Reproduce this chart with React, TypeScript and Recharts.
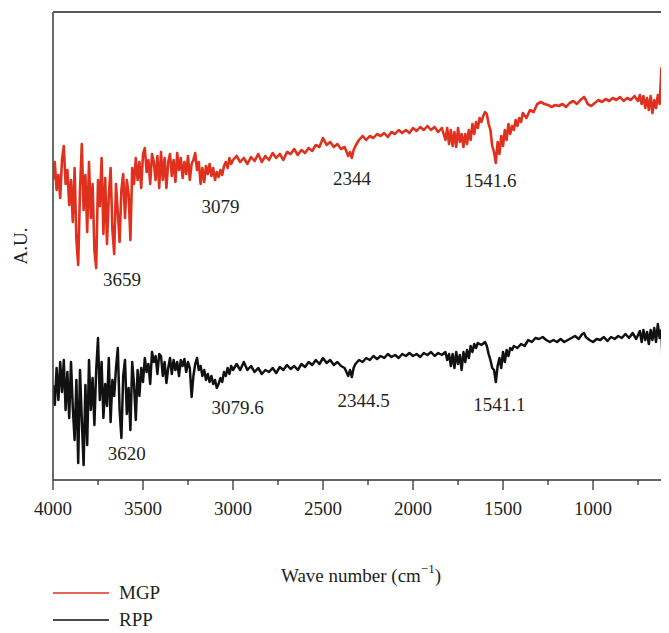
import React from 'react';
import { LineChart, Line, XAxis, YAxis, ReferenceLine, ReferenceDot, Legend } from 'recharts';

// Wavenumber (cm-1) and intensity (A.U.) pairs
const mgpSpectrum: [number, number][] = [
  [4000,300],[3990,318],[3980,290],[3970,305],[3960,282],[3950,320],[3940,334],[3930,296],[3920,310],[3910,275],
  [3900,300],[3890,258],[3880,312],[3870,240],[3860,215],[3850,290],[3840,336],[3830,270],[3820,305],[3810,248],
  [3800,318],[3790,262],[3780,296],[3770,230],[3760,212],[3750,300],[3740,274],[3730,322],[3720,246],[3710,302],
  [3700,236],[3690,284],[3680,312],[3670,250],[3660,226],[3650,296],[3640,268],[3630,238],[3620,290],[3610,306],
  [3600,262],[3590,300],[3580,286],[3570,240],[3560,312],[3550,296],[3540,322],[3530,300],[3520,318],[3510,292],
  [3500,326],[3490,332],[3480,308],[3470,320],[3460,296],[3450,326],[3440,318],[3430,300],[3420,324],[3410,292],
  [3400,328],[3390,300],[3380,322],[3370,292],[3360,318],[3350,326],[3340,304],[3330,320],[3320,298],[3310,327],
  [3300,310],[3290,322],[3280,302],[3270,318],[3260,306],[3250,324],[3240,300],[3230,316],[3220,320],[3210,327],
  [3200,310],[3190,318],[3180,296],[3170,312],[3160,298],[3150,314],[3140,306],[3130,316],[3120,304],[3110,312],
  [3100,300],[3090,308],[3080,303],[3070,310],[3060,305],[3050,314],[3040,318],[3030,312],[3020,322],[3010,316],
  [3000,320],[2980,324],[2960,318],[2940,322],[2920,316],[2900,323],[2880,319],[2860,326],[2840,318],[2820,324],
  [2800,320],[2780,327],[2760,322],[2740,326],[2720,320],[2700,328],[2680,326],[2660,331],[2640,325],[2620,330],
  [2600,327],[2580,332],[2560,329],[2540,335],[2520,333],[2500,342],[2480,335],[2460,338],[2440,333],[2420,336],
  [2400,331],[2380,333],[2360,324],[2350,328],[2340,322],[2330,330],[2320,334],[2300,340],[2280,344],[2260,340],
  [2240,344],[2220,342],[2200,346],[2180,344],[2160,347],[2140,343],[2120,348],[2100,346],[2080,350],[2060,347],
  [2040,350],[2020,347],[2000,352],[1980,349],[1960,353],[1940,350],[1920,354],[1900,350],[1880,353],[1860,348],
  [1840,352],[1820,340],[1810,352],[1800,336],[1790,350],[1780,334],[1770,348],[1760,333],[1750,352],[1740,338],
  [1730,346],[1720,333],[1710,346],[1700,336],[1690,350],[1680,340],[1670,356],[1660,346],[1650,358],[1640,352],
  [1630,362],[1620,358],[1610,364],[1600,368],[1590,366],[1580,356],[1570,350],[1560,334],[1550,328],[1540,317],
  [1530,338],[1520,326],[1510,344],[1500,334],[1490,350],[1480,340],[1470,356],[1460,346],[1450,354],[1440,350],
  [1430,360],[1420,354],[1410,362],[1400,358],[1390,367],[1370,362],[1350,370],[1330,368],[1310,376],[1290,378],
  [1270,376],[1250,375],[1230,373],[1210,375],[1190,374],[1170,376],[1150,373],[1130,377],[1110,379],[1090,376],
  [1070,380],[1050,383],[1040,380],[1030,376],[1010,374],[990,377],[970,380],[950,378],[930,381],[910,379],
  [890,382],[870,380],[850,383],[830,379],[810,382],[790,380],[770,384],[750,379],[740,385],[730,376],
  [720,384],[710,372],[700,382],[690,370],[680,384],[670,367],[660,380],[650,372],[640,385],[630,376],
  [620,412],[615,388],[610,378],[600,382],[590,425],[584,360],[578,353],
];

const rppSpectrum: [number, number][] = [
  [4000,95],[3990,75],[3980,112],[3970,80],[3960,118],[3950,88],[3940,120],[3930,70],[3920,108],[3910,62],
  [3900,118],[3890,72],[3880,40],[3870,100],[3860,17],[3850,110],[3840,60],[3830,15],[3820,95],[3810,35],
  [3800,120],[3790,70],[3780,102],[3770,55],[3760,110],[3750,142],[3740,80],[3730,118],[3720,62],[3710,96],
  [3700,74],[3690,122],[3680,58],[3670,100],[3660,84],[3650,112],[3640,132],[3630,70],[3620,42],[3610,104],
  [3600,120],[3590,66],[3580,92],[3570,50],[3560,118],[3550,96],[3540,60],[3530,110],[3520,84],[3510,112],
  [3500,98],[3490,122],[3480,108],[3470,116],[3460,96],[3450,128],[3440,118],[3430,124],[3420,106],[3410,126],
  [3400,124],[3390,104],[3380,118],[3370,97],[3360,112],[3350,122],[3340,106],[3330,120],[3320,110],[3310,118],
  [3300,104],[3290,120],[3280,114],[3270,121],[3260,108],[3250,118],[3240,112],[3230,83],[3220,104],[3210,116],
  [3200,122],[3190,110],[3180,114],[3170,104],[3160,110],[3150,100],[3140,106],[3130,98],[3120,104],[3110,96],
  [3100,100],[3090,92],[3080,96],[3070,102],[3060,98],[3050,108],[3040,104],[3030,112],[3020,106],[3010,114],
  [3000,110],[2980,116],[2960,110],[2940,118],[2920,110],[2900,114],[2880,108],[2860,112],[2840,106],[2820,110],
  [2800,108],[2780,112],[2760,107],[2740,113],[2720,110],[2700,115],[2680,111],[2660,114],[2640,110],[2620,116],
  [2600,113],[2580,118],[2560,115],[2540,120],[2520,116],[2500,122],[2480,117],[2460,120],[2440,115],[2420,118],
  [2400,114],[2380,112],[2360,104],[2350,110],[2340,103],[2330,112],[2320,116],[2300,120],[2280,118],[2260,122],
  [2240,120],[2220,124],[2200,121],[2180,124],[2160,122],[2140,126],[2120,123],[2100,125],[2080,122],[2060,126],
  [2040,124],[2020,127],[2000,124],[1980,126],[1960,123],[1940,127],[1920,125],[1900,128],[1880,124],[1860,127],
  [1840,125],[1820,128],[1810,120],[1800,126],[1790,114],[1780,126],[1770,112],[1760,128],[1750,116],[1740,125],
  [1730,110],[1720,128],[1710,118],[1700,130],[1690,122],[1680,134],[1670,128],[1660,136],[1650,132],[1640,137],
  [1620,135],[1600,138],[1590,134],[1580,126],[1570,120],[1560,112],[1550,110],[1540,98],[1530,114],[1520,122],
  [1510,112],[1500,128],[1490,118],[1480,130],[1470,124],[1460,132],[1450,130],[1440,134],[1420,132],[1400,136],
  [1380,134],[1360,140],[1340,138],[1320,142],[1300,141],[1280,143],[1260,140],[1240,138],[1220,140],[1200,138],
  [1180,141],[1160,138],[1140,140],[1120,142],[1100,144],[1080,141],[1060,146],[1050,147],[1040,143],[1020,140],
  [1000,138],[980,141],[960,140],[940,143],[920,139],[900,143],[880,141],[860,144],[840,142],[820,146],
  [800,142],[780,147],[760,141],[740,149],[730,138],[720,150],[710,140],[700,148],[690,136],[680,150],
  [670,140],[660,152],[650,138],[640,156],[630,142],[620,150],[615,123],[610,170],[600,140],[590,85],[580,78],
];

const xTicks = [4000, 3750, 3500, 3250, 3000, 2750, 2500, 2250, 2000, 1750, 1500, 1250, 1000, 750];

// Peak annotations: text, wavenumber anchor, intensity anchor
const mgpPeaks: { text: string; w: number; v: number }[] = [
  { text: '3659', w: 3617, v: 201 },
  { text: '3079', w: 3070, v: 274 },
  { text: '2344', w: 2339, v: 302 },
  { text: '1541.6', w: 1570, v: 300 },
];
const rppPeaks: { text: string; w: number; v: number }[] = [
  { text: '3620', w: 3590, v: 27 },
  { text: '3079.6', w: 2975, v: 73 },
  { text: '2344.5', w: 2275, v: 80 },
  { text: '1541.1', w: 1520, v: 76 },
];

const seriesNames = ['MGP', 'RPP'];

const FONT = '"Liberation Serif", "Times New Roman", serif';
const TEXT = '#231f20';

const mgpData = mgpSpectrum.map(([w, v]) => ({ w, v }));
const rppData = rppSpectrum.map(([w, v]) => ({ w, v }));

const AxisTick = (props: any) => {
  const { x, y, payload } = props;
  const major = payload.value % 500 === 0;
  return (
    <g>
      <line x1={x} x2={x} y1={y} y2={y + (major ? 10 : 5)} stroke="#333" strokeWidth={1.3} />
      {major && (
        <text x={x} y={y + 28} textAnchor="middle" dominantBaseline="central" fontFamily={FONT} fontSize={19} fill={TEXT}>
          {payload.value}
        </text>
      )}
    </g>
  );
};

const LegendContent = (props: any) => {
  const { payload } = props;
  return (
    <div style={{ fontFamily: FONT, fontSize: 19, lineHeight: '22px', color: TEXT }}>
      {(payload || []).map((entry: any, i: number) => (
        <div key={i} style={{ display: 'flex', alignItems: 'center', height: 27 }}>
          <svg width={56} height={4} style={{ marginRight: 10 }}>
            <line x1={0} x2={56} y1={2} y2={2} stroke={entry.color} strokeWidth={1.6} />
          </svg>
          <span>{entry.value}</span>
        </div>
      ))}
    </div>
  );
};

export default function App() {
  return (
    <div style={{ width: 661, height: 625, overflow: 'hidden' }}>
      <LineChart width={661} height={625} margin={{ top: 4, right: 0, bottom: 53, left: 0 }}>
        <XAxis
          dataKey="w"
          type="number"
          domain={[578, 4000]}
          reversed
          allowDataOverflow
          ticks={xTicks}
          interval={0}
          tick={<AxisTick />}
          tickLine={false}
          tickSize={0}
          tickMargin={0}
          height={100}
          axisLine={{ stroke: '#333', strokeWidth: 1.3 }}
          label={{
            content: (p: any) => {
              const vb = p.viewBox;
              return (
                <text x={vb.x + vb.width / 2} y={vb.y + 95} textAnchor="middle" dominantBaseline="central" fontFamily={FONT} fontSize={19} fill={TEXT}>
                  Wave number (cm
                  <tspan dy={-7} fontSize={13}>−1</tspan>
                  <tspan dy={7}>)</tspan>
                </text>
              );
            },
          }}
        />
        <YAxis
          type="number"
          domain={[0, 468]}
          allowDataOverflow
          width={45}
          tick={false}
          tickLine={false}
          axisLine={{ stroke: '#555', strokeWidth: 1.3 }}
          label={{
            content: (p: any) => {
              const vb = p.viewBox;
              const cx = vb.x + 12;
              const cy = vb.y + vb.height / 2;
              return (
                <text x={cx} y={cy} transform={`rotate(-90 ${cx} ${cy})`} textAnchor="middle" dominantBaseline="central" fontFamily={FONT} fontSize={19} fill={TEXT}>
                  A.U.
                </text>
              );
            },
          }}
        />
        <ReferenceLine y={468} stroke="#222" strokeWidth={1.3} />
        <ReferenceLine x={4000} stroke="#555" strokeWidth={1.3} />
        <Line data={mgpData} dataKey="v" name={seriesNames[0]} stroke="#e0301e" strokeWidth={2.6} dot={false} isAnimationActive={false} strokeLinejoin="round" />
        <Line data={rppData} dataKey="v" name={seriesNames[1]} stroke="#111111" strokeWidth={2.5} dot={false} isAnimationActive={false} strokeLinejoin="round" />
        {[...mgpPeaks, ...rppPeaks].map((p, i) => (
          <ReferenceDot
            key={i}
            x={p.w}
            y={p.v}
            r={0}
            fill="none"
            stroke="none"
            label={{ value: p.text, position: 'center', fontFamily: FONT, fontSize: 19, fill: TEXT }}
          />
        ))}
        <Legend
          layout="horizontal"
          verticalAlign="middle"
          align="center"
          content={<LegendContent />}
          wrapperStyle={{ position: 'absolute', left: 45, top: 571, width: 200, height: 54 }}
        />
      </LineChart>
    </div>
  );
}
